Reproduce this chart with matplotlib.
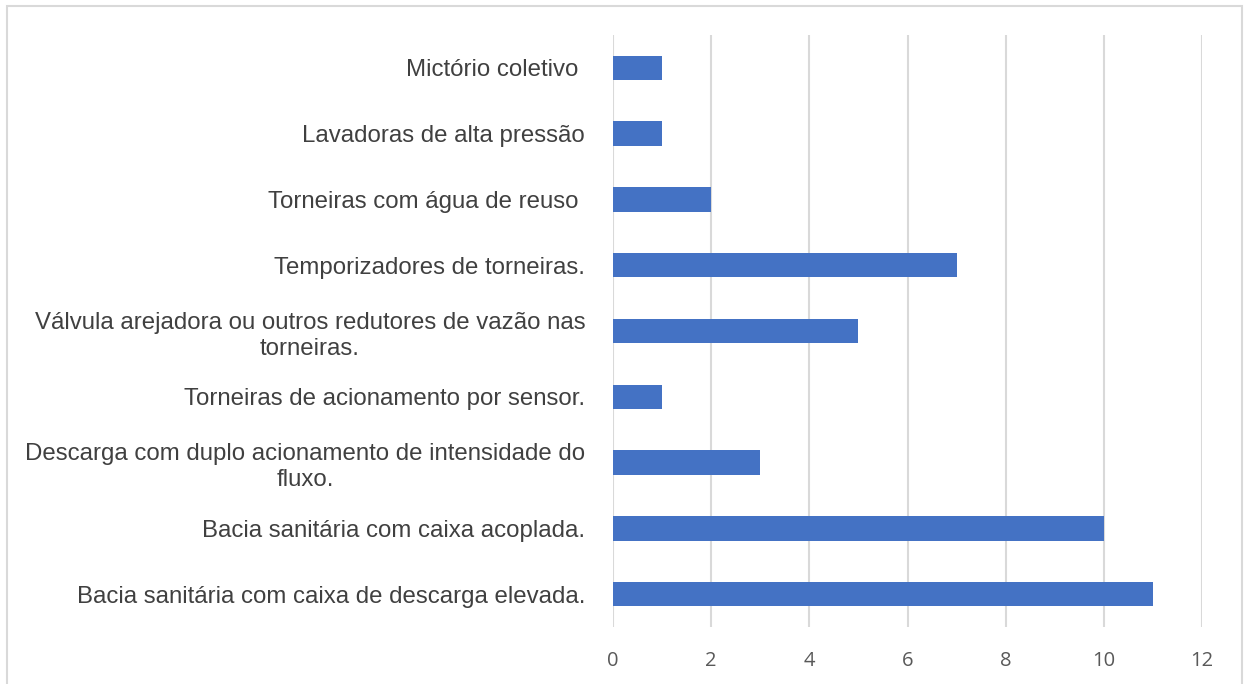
import matplotlib
matplotlib.use("Agg")
import matplotlib.pyplot as plt
from matplotlib.patches import Rectangle

categories = [
    "Bacia sanitária com caixa de descarga elevada.",
    "Bacia sanitária com caixa acoplada.",
    "Descarga com duplo acionamento de intensidade do\nfluxo.",
    "Torneiras de acionamento por sensor.",
    "Válvula arejadora ou outros redutores de vazão nas\ntorneiras.",
    "Temporizadores de torneiras.",
    "Torneiras com água de reuso ",
    "Lavadoras de alta pressão",
    "Mictório coletivo ",
]
values = [11, 10, 3, 1, 5, 7, 2, 1, 1]
xticks = [0, 2, 4, 6, 8, 10, 12]

W, H = 1246, 684
fig = plt.figure(figsize=(W / 100, H / 100), dpi=100)
fig.patch.set_facecolor("white")

# outer chart border
fig.patches.append(Rectangle((7 / W, -0.05), (1242 - 7) / W, (H - 6) / H + 0.05,
                             transform=fig.transFigure, fill=False,
                             edgecolor="#D9D9D9", linewidth=1.5))

ax = fig.add_axes([613 / W, 1 - 627 / H, (1202 - 613) / W, (627 - 35) / H])
y = list(range(len(categories)))
ax.barh(y, values, height=0.37, color="#4472C4", zorder=3)
ax.set_xlim(0, 12)
ax.set_ylim(-0.5, len(categories) - 0.5)
ax.set_xticks(xticks)
ax.set_xticklabels([str(t) for t in xticks], fontsize=14.5, color="#595959", family="Open Sans")
ax.set_yticks(y)
ax.set_yticklabels(categories, fontsize=17.3, color="#404040", family="Liberation Sans",
                   multialignment="center", linespacing=1.25)
ax.tick_params(axis="y", length=0, pad=20)
ax.tick_params(axis="x", length=0, pad=17)
ax.grid(axis="x", color="#D9D9D9", linewidth=1.5, zorder=0)
for s in ax.spines.values():
    s.set_visible(False)

fig.savefig("out.png", dpi=100)
